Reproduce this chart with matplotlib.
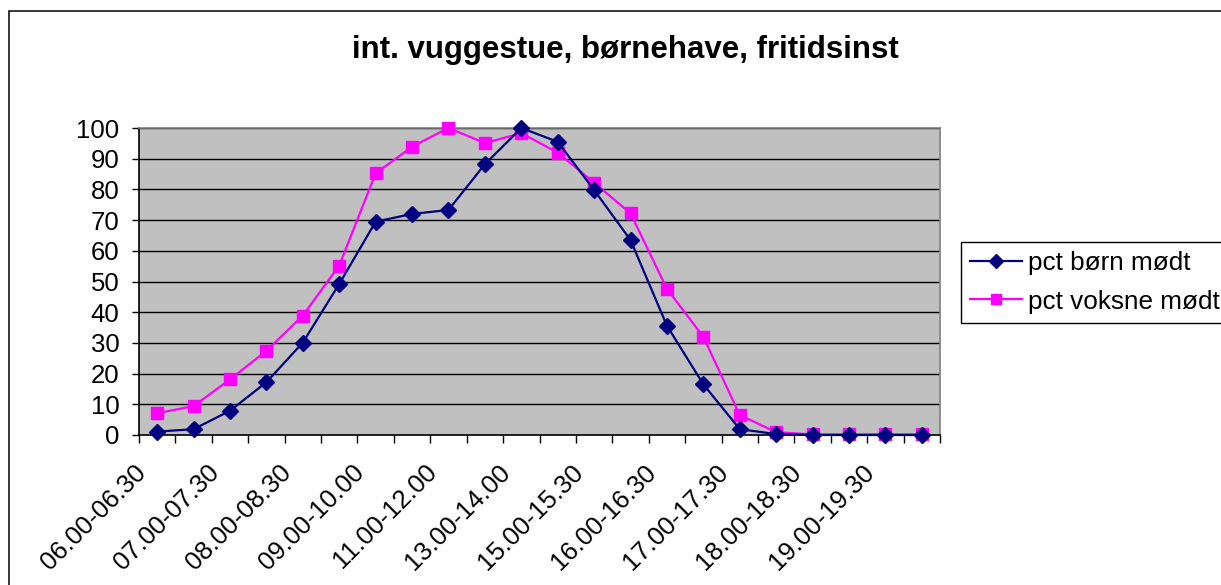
import numpy as np
import matplotlib
matplotlib.use("Agg")
import matplotlib.pyplot as plt
from matplotlib.patches import Rectangle
from matplotlib.transforms import ScaledTranslation

plt.rcParams['font.family'] = ['Liberation Sans', 'DejaVu Sans']

categories = ["06.00-06.30", "06.30-07.00", "07.00-07.30", "07.30-08.00",
              "08.00-08.30", "08.30-09.00", "09.00-10.00", "10.00-11.00",
              "11.00-12.00", "12.00-13.00", "13.00-14.00", "14.00-15.00",
              "15.00-15.30", "15.30-16.00", "16.00-16.30", "16.30-17.00",
              "17.00-17.30", "17.30-18.00", "18.00-18.30", "18.30-19.00",
              "19.00-19.30", "19.30-20.00"]
born = [1.1, 1.9, 7.9, 17.2, 30.1, 49.2, 69.5, 72.0, 73.3, 88.2, 100.0, 95.5,
        79.8, 63.5, 35.6, 16.5, 1.9, 0.3, 0.0, 0.0, 0.0, 0.0]
voksne = [7.1, 9.4, 18.1, 27.4, 38.9, 55.2, 85.2, 93.9, 100.0, 95.1, 98.3, 92.0,
          82.2, 72.2, 47.6, 32.0, 6.5, 0.9, 0.2, 0.2, 0.2, 0.2]
title = "int. vuggestue, børnehave, fritidsinst"
series_names = ["pct børn mødt", "pct voksne mødt"]
yticks = list(range(0, 101, 10))

W, H = 1221, 585
fig = plt.figure(figsize=(W / 100, H / 100), dpi=100)
fig.patch.set_facecolor('white')

# outer chart border (extends beyond right/bottom edges)
fig.patches.append(Rectangle((9 / W, -0.2), 1.5, 1 - 11 / H + 0.2,
                             transform=fig.transFigure, fill=False,
                             edgecolor='black', linewidth=1.1, zorder=0))

ax = fig.add_axes([139 / W, 1 - 435 / H, (940 - 139) / W, (435 - 128) / H])
ax.set_facecolor('#C0C0C0')

x = np.arange(len(categories))
ax.plot(x, born, color='#000080', marker='D', markersize=8.5, linewidth=1.6,
        label=series_names[0], zorder=4, clip_on=False)
ax.plot(x, voksne, color='#FF00FF', marker='s', markersize=9, linewidth=1.6,
        label=series_names[1], zorder=3, clip_on=False)

ax.set_xlim(-0.5, len(categories) - 0.5)
ax.set_ylim(0, 100)
ax.set_yticks(yticks)
ax.tick_params(axis='y', labelsize=18.5, length=5, width=1, pad=9, colors='black')
for yv in yticks[1:]:
    ax.axhline(yv, color='black', linewidth=1, zorder=1)

# category boundary ticks
ax.set_xticks(np.arange(-0.5, len(categories), 1.0))
ax.set_xticklabels([])
ax.tick_params(axis='x', which='major', length=6, width=1, direction='out')
# labels at category centres (every other)
lab_idx = list(range(0, len(categories), 2))
ax.set_xticks(lab_idx, [categories[i] for i in lab_idx], minor=True)
ax.tick_params(axis='x', which='minor', length=0, pad=24, labelsize=18.5)
offset = ScaledTranslation(-15 / 100, 0, fig.dpi_scale_trans)
for lbl in ax.get_xticklabels(minor=True):
    lbl.set_rotation(45)
    lbl.set_rotation_mode('anchor')
    lbl.set_ha('right')
    lbl.set_va('center')
    lbl.set_transform(lbl.get_transform() + offset)

for s in ['top', 'right']:
    ax.spines[s].set_color('#808080')
    ax.spines[s].set_linewidth(1.2)
for s in ['left', 'bottom']:
    ax.spines[s].set_color('black')
    ax.spines[s].set_linewidth(1.2)

fig.text(625 / W, 1 - 50 / H, title, ha='center', va='center',
         fontsize=22.5, fontweight='bold')

leg = fig.legend(loc='upper left', bbox_to_anchor=(961 / W, 1 - 242 / H),
                 bbox_transform=fig.transFigure, fontsize=18.8, frameon=True,
                 fancybox=False, edgecolor='black', framealpha=1,
                 handlelength=2.0, handletextpad=0.2, borderpad=0.35,
                 labelspacing=0.55, borderaxespad=0, markerscale=0.8)
leg.get_frame().set_linewidth(1.0)

fig.savefig('out.png', dpi=100)
